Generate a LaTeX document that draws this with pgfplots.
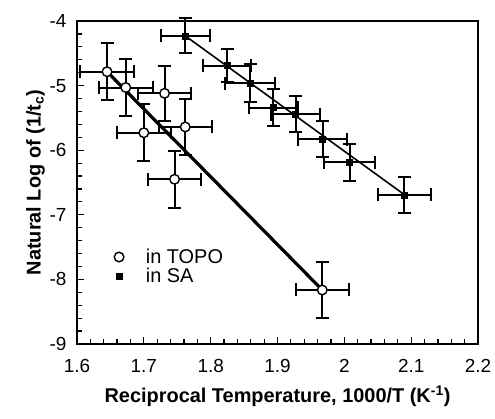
\documentclass[border=0pt]{standalone}
\usepackage{fontspec}
\setmainfont{Liberation Sans}
\usepackage{pgfplots}
\pgfplotsset{compat=1.18}
\begin{document}
\begin{tikzpicture}
\useasboundingbox (-77bp,-75bp) rectangle (418bp,344bp);
\begin{axis}[
  scale only axis,
  width=401bp, height=323bp,
  xmin=1.6, xmax=2.2, ymin=-9, ymax=-4,
  xtick={1.6,1.7,...,2.2},
  xticklabels={1.6,1.7,1.8,1.9,2,2.1,2.2},
  ytick={-9,-8,...,-4},
  minor x tick num=4, minor y tick num=4,
  tick pos=left, tick align=inside,
  major tick length=7bp, minor tick length=5bp,
  every tick/.style={black, line width=1.2bp},
  axis line style={line width=1.6bp},
  /pgf/number format/assume math mode=true,
  ticklabel style={font=\fontsize{19}{22}\selectfont},
  xticklabel style={yshift=-12bp},
  yticklabel style={xshift=-7bp},
  xlabel={\textbf{Reciprocal Temperature, 1000/T (K\textsuperscript{-1})}},
  ylabel={\textbf{Natural Log of (1/t\textsubscript{c})}},
  label style={font=\fontsize{20}{24}\selectfont},
  xlabel style={yshift=-6bp},
  ylabel style={yshift=-2bp},
  legend style={draw=none, fill=none, at={(0.085,0.24)}, anchor=west,
    font=\fontsize{20}{24}\selectfont, row sep=-1bp,
    /tikz/every odd column/.append style={column sep=20bp}},
  legend cell align=left,
  clip=false,
]
% error bars TOPO
\addplot[only marks, mark=none, forget plot,
  error bars/.cd, x dir=both, x explicit, y dir=both, y explicit,
  error bar style={line width=2bp, black},
  error mark options={rotate=90, mark size=6.5bp, line width=2bp, black}]
  coordinates {
  (1.645,-4.785) +- (0.041,0.44)
  (1.673,-5.03) +- (0.040,0.44)
  (1.731,-5.12) +- (0.039,0.43)
  (1.700,-5.73) +- (0.040,0.44)
  (1.762,-5.64) +- (0.040,0.44)
  (1.746,-6.45) +- (0.040,0.44)
  (1.967,-8.164) +- (0.040,0.44)
};
% error bars SA
\addplot[only marks, mark=none, forget plot,
  error bars/.cd, x dir=both, x explicit, y dir=both, y explicit,
  error bar style={line width=2bp, black},
  error mark options={rotate=90, mark size=6.5bp, line width=2bp, black}]
  coordinates {
  (1.762,-4.23) +- (0.037,0.27)
  (1.825,-4.69) +- (0.036,0.26)
  (1.859,-4.96) +- (0.037,0.29)
  (1.894,-5.34) +- (0.037,0.29)
  (1.927,-5.44) +- (0.037,0.28)
  (1.9675,-5.83) +- (0.037,0.28)
  (2.008,-6.19) +- (0.038,0.29)
  (2.090,-6.69) +- (0.039,0.28)
};
% fit lines
\addplot[black, line width=3.2bp, forget plot] coordinates {(1.645,-4.785) (1.967,-8.164)};
\addplot[black, line width=1.6bp, forget plot] coordinates {(1.762,-4.23) (2.090,-6.69)};
% markers
\addplot[only marks, mark=*, mark size=4.8bp, mark options={fill=white, draw=black, line width=1.4bp}]
  coordinates {
  (1.645,-4.785) (1.673,-5.03) (1.731,-5.12) (1.700,-5.73)
  (1.762,-5.64) (1.746,-6.45) (1.967,-8.164)
};
\addlegendentry{in TOPO}
\addplot[only marks, mark=square*, mark size=3bp, mark options={fill=black, draw=black}]
  coordinates {
  (1.762,-4.23) (1.825,-4.69) (1.859,-4.96) (1.894,-5.34)
  (1.927,-5.44) (1.9675,-5.83) (2.008,-6.19) (2.090,-6.69)
};
\addlegendentry{in SA}
\end{axis}
\end{tikzpicture}
\end{document}
